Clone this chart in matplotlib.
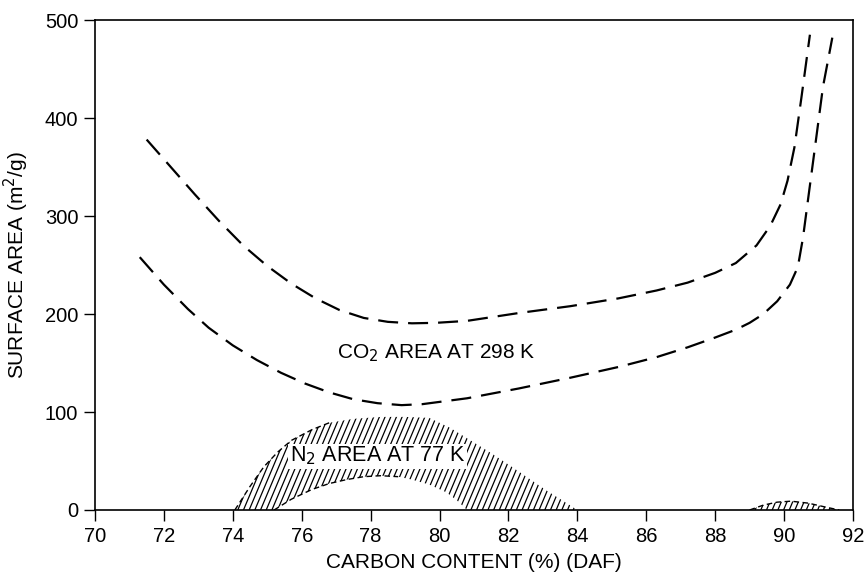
import numpy as np
import matplotlib
matplotlib.use('Agg')
import matplotlib.pyplot as plt
from matplotlib.patches import Polygon
from matplotlib.collections import LineCollection

plt.rcParams['font.family'] = ['Liberation Sans', 'DejaVu Sans']

# CO2 area at 298 K - upper and lower bound
co2_hi_x = [71.5, 72.2, 72.9, 73.6, 74.3, 75.0, 75.7, 76.4, 77.1, 77.8, 78.5,
            79.2, 79.9, 80.8, 82.3, 83.8, 85.2, 86.3, 87.2, 88.0, 88.6,
            89.2, 89.6, 89.9, 90.1, 90.3, 90.5, 90.75]
co2_hi_y = [378, 350, 322, 295, 270, 249, 231, 216, 204, 196, 192,
            190.5, 191, 193, 201, 208, 216, 224, 232, 242, 252,
            270, 290, 312, 336, 370, 420, 485]
co2_lo_x = [71.3, 72.0, 72.7, 73.3, 74.0, 74.7, 75.4, 76.1, 76.8, 77.5, 78.2,
            78.9, 79.5, 80.8, 82.3, 83.8, 85.2, 86.3, 87.2, 88.0, 88.6,
            89.0, 89.4, 89.8, 90.17, 90.4, 90.55, 90.7, 90.84, 91.13, 91.4]
co2_lo_y = [258, 230, 205, 186, 168, 153, 140, 129, 120, 113, 109,
            107, 108, 114, 124, 135, 146, 156, 166, 176, 184,
            191, 200, 213, 230, 248, 278, 318, 355, 432, 482]

# N2 area at 77 K - outer and inner boundary of the hatched band
n2_out_x = [74.06, 74.5, 74.9, 75.3, 75.7, 76.3, 76.8, 77.5, 78.3, 79.0, 79.7,
            80.3, 80.9, 81.5, 82.1, 82.6, 83.1, 83.6, 84.0]
n2_out_y = [0, 24, 44, 59, 71, 82, 89, 93, 95, 95, 94,
            84, 71, 58, 44, 32, 20, 9, 0]
n2_in_x = [75.2, 75.7, 76.3, 76.8, 77.3, 77.8, 78.3, 78.8, 79.2, 79.7, 80.2, 80.5, 80.8]
n2_in_y = [0, 11, 21, 27, 31, 34, 35, 34, 31, 26, 18, 10, 0]
n2_bump_x = [89.0, 89.4, 89.8, 90.2, 90.7, 91.2, 91.6]
n2_bump_y = [0, 5, 8, 9, 7, 3, 0]

x_ticks = list(range(70, 93, 2))
y_ticks = [0, 100, 200, 300, 400, 500]

fig = plt.figure(figsize=(8.68, 5.72), dpi=100)
ax = fig.add_axes([0.1094, 0.1084, 0.8733, 0.8566])
ax.set_xlim(70, 92)
ax.set_ylim(0, 500)

dash = dict(color='black', lw=1.6, dashes=(9, 4.5), dash_capstyle='butt')
ax.plot(co2_hi_x, co2_hi_y, **dash)
ax.plot(co2_lo_x, co2_lo_y, **dash)

# hatched N2 regions: outer boundary then inner boundary backwards
def hatched(px, py):
    poly = Polygon(np.column_stack([px, py]), closed=True, fill=False,
                   edgecolor='none')
    ax.add_patch(poly)
    starts = np.arange(72, 92, 0.165)
    segs = [[(s, 0), (s + 1.2, 100)] for s in starts]
    lc = LineCollection(segs, colors='black', linewidths=0.9)
    lc.set_clip_path(poly)
    ax.add_collection(lc)

hatched(n2_out_x + n2_in_x[::-1], n2_out_y + n2_in_y[::-1])
hatched(n2_bump_x, n2_bump_y)
thin = dict(color='black', lw=1.0, dashes=(4, 2.5))
ax.plot(n2_out_x[:7], n2_out_y[:7], **thin)
ax.plot(n2_in_x[:8], n2_in_y[:8], **thin)
ax.plot(n2_bump_x, n2_bump_y, **thin)

ax.text(78.2, 55, 'N$_2$ AREA AT 77 K', fontsize=15.5, ha='center', va='center',
        bbox=dict(facecolor='white', edgecolor='none', pad=1))
ax.text(79.9, 160, 'CO$_2$ AREA AT 298 K', fontsize=15, ha='center', va='center')

ax.set_xticks(x_ticks)
ax.set_yticks(y_ticks)
ax.tick_params(direction='out', length=8, width=1, pad=4)
ax.tick_params(axis='y', labelsize=14.5)
ax.tick_params(axis='x', labelsize=14.5)
for sp in ax.spines.values():
    sp.set_linewidth(1.2)

ax.set_xlabel('CARBON CONTENT (%) (DAF)', fontsize=15, labelpad=5)
ax.set_ylabel('SURFACE AREA (m$^2$/g)', fontsize=15, labelpad=10)

fig.savefig('out.png', dpi=100)
